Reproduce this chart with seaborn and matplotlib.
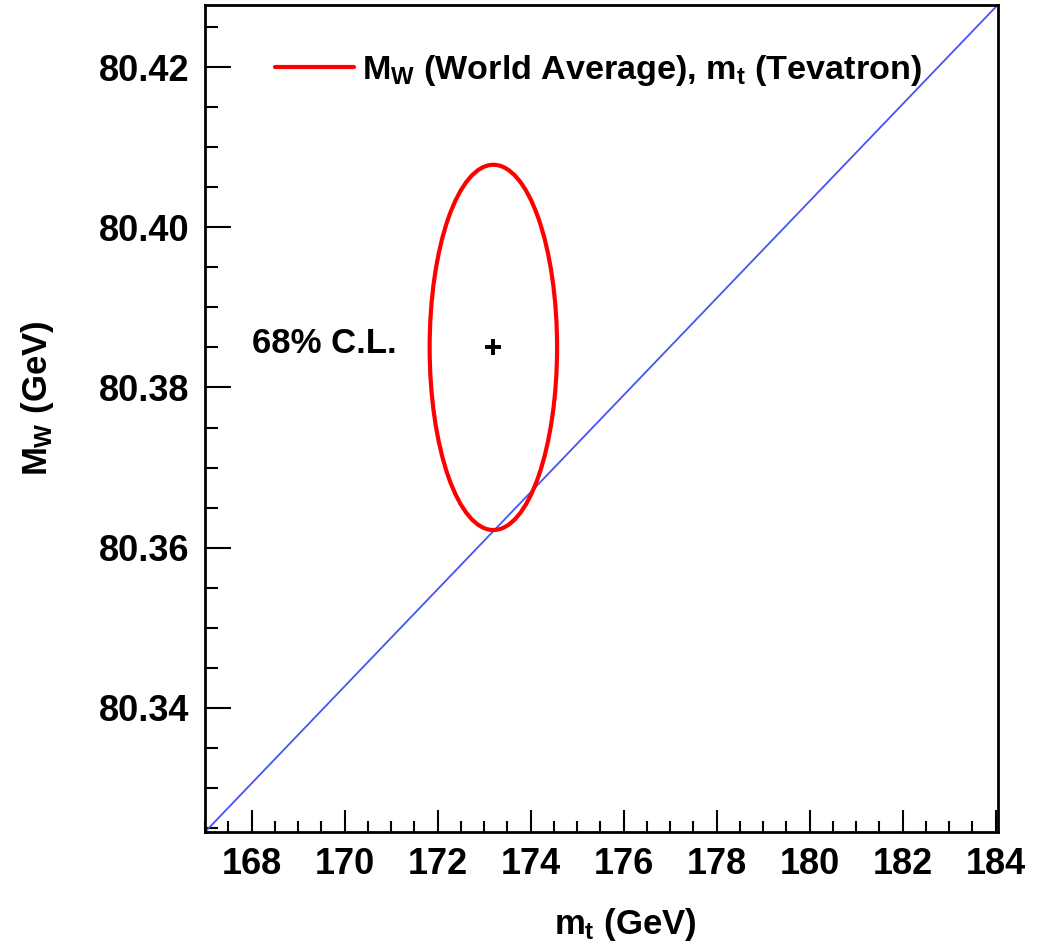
import matplotlib
matplotlib.use("Agg")
import matplotlib.pyplot as plt
import seaborn as sns
import pandas as pd
from matplotlib.patches import Ellipse
from matplotlib.lines import Line2D
from matplotlib.ticker import MultipleLocator, FormatStrFormatter

# ---- data ----
line_mt = [167.0, 184.05]
line_mw = [80.3245, 80.4278]
center_mt = [173.2]
center_mw = [80.385]
ellipse_half_mt = 1.37
ellipse_half_mw = 0.0228
legend_label = r"$M_W$ (World Average), $m_t$ (Tevatron)"
cl_label = "68% C.L."
xlabel = r"$m_t$ (GeV)"
ylabel = r"$M_W$ (GeV)"

sns.set_theme(style="ticks")
plt.rcParams["font.family"] = ["Liberation Sans", "DejaVu Sans"]
plt.rcParams["font.weight"] = "bold"
plt.rcParams["text.color"] = "black"
plt.rcParams["axes.labelcolor"] = "black"
plt.rcParams["xtick.color"] = "black"
plt.rcParams["ytick.color"] = "black"
plt.rcParams["mathtext.fontset"] = "custom"
plt.rcParams["mathtext.rm"] = "Liberation Sans:bold"
plt.rcParams["mathtext.it"] = "Liberation Sans:bold"
plt.rcParams["mathtext.bf"] = "Liberation Sans:bold"

FS = 25
TFS = 26
fig = plt.figure(figsize=(10.37, 9.46), dpi=100)
ax = fig.add_axes([205/1037, 1-832/946, (998-205)/1037, (832-5)/946])

df_line = pd.DataFrame({"mt": line_mt, "mw": line_mw})
sns.lineplot(data=df_line, x="mt", y="mw", ax=ax, color="#4455f0", lw=1.3)

ell = Ellipse((center_mt[0], center_mw[0]), 2*ellipse_half_mt, 2*ellipse_half_mw,
              fill=False, edgecolor="#ff0000", lw=3.0, zorder=3)
ax.add_patch(ell)

df_c = pd.DataFrame({"mt": center_mt, "mw": center_mw})
sns.scatterplot(data=df_c, x="mt", y="mw", ax=ax, marker="+", s=140,
                color="black", linewidth=2.8, zorder=4)

ax.text(168.0, 80.3855, cl_label, fontsize=FS, fontweight="bold",
        ha="left", va="center", color="black")

ax.set_xlim(167.0, 184.05)
ax.set_ylim(80.3245, 80.42775)
ax.xaxis.set_major_locator(MultipleLocator(2))
ax.xaxis.set_minor_locator(MultipleLocator(0.5))
ax.yaxis.set_major_locator(MultipleLocator(0.02))
ax.yaxis.set_minor_locator(MultipleLocator(0.005))
ax.xaxis.set_major_formatter(FormatStrFormatter("%d"))
ax.yaxis.set_major_formatter(FormatStrFormatter("%.2f"))

ax.tick_params(axis="x", which="major", direction="in", length=16, width=1.5,
               labelsize=TFS, pad=11, color="black", labelcolor="black")
ax.tick_params(axis="x", which="minor", direction="in", length=8, width=1.5, color="black")
ax.tick_params(axis="y", which="major", direction="in", length=19, width=1.5,
               labelsize=TFS, pad=11, color="black", labelcolor="black")
ax.tick_params(axis="y", which="minor", direction="in", length=9.5, width=1.5, color="black")
for lab in ax.get_xticklabels() + ax.get_yticklabels():
    lab.set_fontweight("bold")
for s in ax.spines.values():
    s.set_linewidth(2.0)
    s.set_color("black")

ax.set_xlabel("")
ax.set_ylabel("")
fig.text(625/1037, 1-924/946, xlabel, fontsize=FS, fontweight="bold",
         ha="center", va="center", color="black")
fig.text(38/1037, 1-398/946, ylabel, fontsize=FS, fontweight="bold",
         ha="center", va="center", rotation=90, color="black")

handle = Line2D([], [], color="#ff0000", lw=3.0)
leg = ax.legend(handles=[handle], labels=[legend_label], loc="center left",
                bbox_to_anchor=((275-205)/793, 1-(70-5)/827), frameon=False,
                borderpad=0, borderaxespad=0, handlelength=2.3, handletextpad=0.25,
                prop={"size": 24.6, "weight": "bold"})
for t in leg.get_texts():
    t.set_color("black")

fig.savefig("out.png", dpi=100, facecolor="white")
